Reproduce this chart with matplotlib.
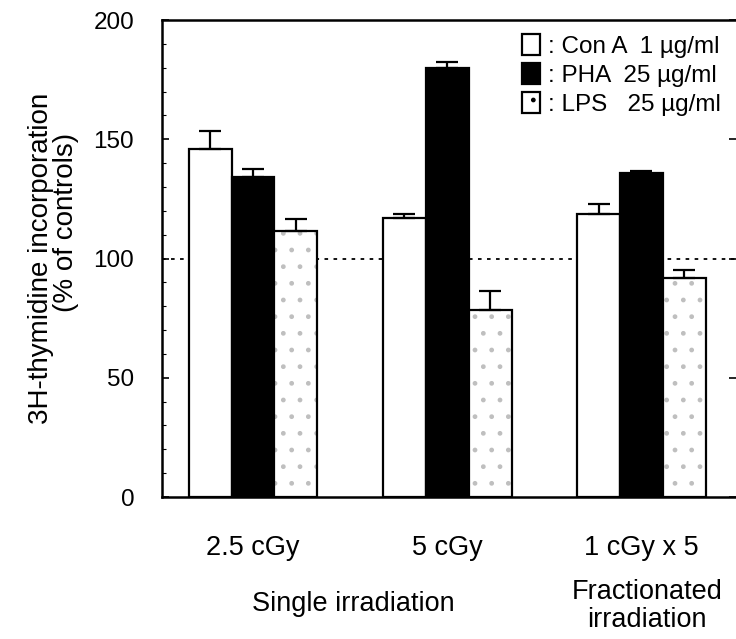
# %%
# 3H-thymidine incorporation after low-dose irradiation
import numpy as np
import matplotlib
matplotlib.use('Agg')
import matplotlib.pyplot as plt
from matplotlib.patches import Patch

plt.rcParams['font.family'] = ['Liberation Sans', 'DejaVu Sans']

# %%
# Data (% of controls)
groups = ['2.5 cGy', '5 cGy', '1 cGy x 5']
series = [': Con A  1 \u00b5g/ml', ': PHA  25 \u00b5g/ml', ': LPS   25 \u00b5g/ml']
con_a = [146.0, 116.8, 118.7]
pha = [134.0, 179.7, 135.7]
lps = [111.4, 78.4, 91.7]
con_a_err = [7.5, 2.0, 4.3]
pha_err = [3.5, 2.8, 0.8]
lps_err = [5.0, 8.0, 3.5]

# %%
fig = plt.figure(figsize=(7.36, 6.39), dpi=100)
ax = fig.add_axes([0.2201, 0.2222, 0.7799, 0.7465])

x = np.arange(len(groups))
w = 0.221

# reference line at 100 %
ax.axhline(100, color='black', lw=1.3, ls=(0, (2, 3)), zorder=1)

ax.bar(x - w, con_a, w, color='white', edgecolor='black', lw=1.6, zorder=2)
ax.bar(x, pha, w, color='black', edgecolor='black', lw=1.6, zorder=2)
# LPS: sparse grey stipple + black outline
ax.bar(x + w, lps, w, color='white', edgecolor='0.75', hatch='.', lw=0, zorder=2)
ax.bar(x + w, lps, w, fill=False, edgecolor='black', lw=1.6, zorder=3)

for off, vals, errs in [(-w, con_a, con_a_err), (0, pha, pha_err), (w, lps, lps_err)]:
    ax.errorbar(x + off, vals, yerr=[np.zeros(len(errs)), errs], fmt='none',
                ecolor='black', elinewidth=1.6, capsize=8, capthick=1.6, zorder=4)

# %%
# Axes styling
ax.set_xlim(-0.4685, 2.4865)
ax.set_ylim(0, 200)
ax.set_yticks([0, 50, 100, 150, 200])
ax.set_yticks(np.arange(0, 201, 10), minor=True)
ax.tick_params(axis='y', which='major', direction='in', length=5, width=1.2,
               labelsize=17.5, pad=20, right=True)
ax.tick_params(axis='y', which='minor', direction='in', length=3, width=0.8)
ax.set_xticks(x)
ax.set_xticklabels(groups, fontsize=19.5)
ax.tick_params(axis='x', length=0, pad=27)
for s in ['left', 'bottom', 'top']:
    ax.spines[s].set_linewidth(1.8)
ax.spines['right'].set_visible(False)

# y label (two lines, placed separately as in the original)
fig.text(41 / 736, 1 - 258 / 639, '3H-thymidine incorporation', rotation=90,
         ha='center', va='center', fontsize=20)
fig.text(66 / 736, 1 - 222 / 639, '(% of controls)', rotation=90,
         ha='center', va='center', fontsize=20)

# irradiation type labels
xt = ax.get_xaxis_transform()
ax.text(0.515, -0.224, 'Single irradiation', transform=xt,
        ha='center', va='center', fontsize=19.5)
ax.text(2.03, -0.229, 'Fractionated\nirradiation', transform=xt,
        ha='center', va='center', fontsize=19.5, linespacing=1.12)

# %%
# Legend
handles = [Patch(facecolor='white', edgecolor='black', lw=1.6),
           Patch(facecolor='black', edgecolor='black', lw=1.6),
           Patch(facecolor='white', edgecolor='black', lw=1.6, hatch='.')]
ax.legend(handles, series, loc='upper left', bbox_to_anchor=(0.627, 0.97),
          frameon=False, fontsize=17.5, handlelength=0.74, handleheight=0.95,
          handletextpad=0.35, labelspacing=0.2, borderaxespad=0, borderpad=0)

fig.savefig('out.png', dpi=100)
